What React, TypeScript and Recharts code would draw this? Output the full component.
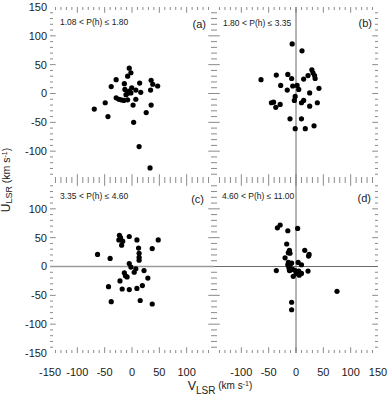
import React from 'react';
import { ScatterChart, Scatter, XAxis, YAxis, ReferenceLine } from 'recharts';

// ---- data (V_LSR, U_LSR in km/s) ----
const VA = [-5, -2, -8, -29, -14, -38, 14, 35, 38, 47, 34, -13, -0.5, 7, -5, -8, -11, 16, -2, -29, -24, -20, -15, -8, 7, 2, 35, -49, -69, -44, 26, 3, 13, 33];
const UA = [44, 36, 30, 24, 17, 12, 18, 23, 16, 13, 6, 7, 10, 6, 4, 0.5, -2, 2, 1, -7.5, -10, -11, -12, -11, -10, -20, -20, -16, -27, -40, -33, -50, -92, -129];

const VB = [-7, 11, 29, 31, 34, 35, 22, 14, -15, -36, -64, -8, -28, -6, 2, 5, -16, 42, 25, -1.5, -3, 10, 14, 39, 25, -45, -41, -29, -37, -11, 10, -1.5, 17, 33];
const UB = [86, 74, 41, 36, 31, 26, 31, 25, 33, 32, 24, 26, 14, 13, 14, 7, 6, 9, 1, -5, -12, -16, -12, -16, -22, -16, -15, -19, -24, -44, -44, -61, -61, -56];

const VC = [-23, -21, -24, -17, -19, -5, 9, 48, 12, 37, 13, 13, 13, -63, -40, -5, -2, 7, 4, 22, -14, -12, -9, 29, -22, 19, -43, -18, -5, 9, -38, 15, 37];
const UC = [54, 50, 46, 44, 37, 52, 46, 46, 32, 31, 23, 16, 11, 21, 14, 5, -1, -4, -10, -7, -11, -16, -18, -20, -25, -33, -35, -39, -40, -38, -61, -59, -65];

const VD = [-34, -29, -15, 3, -17, -12, -14, -11, 16, 24, 23, -20, -14, -15, -11, -8, 4, 10, -36, -13, -12, -10, -6, -1.5, 0.5, 5, 10, 6, 22, -5, 75, -8, -8];
const UD = [67, 72, 62, 66, 39, 28, 24, 23, 28, 21, 18, 15, 7, 3, 3, 6, 7, 3, -7, -2, -7, -6, -5, -7, -12, -8, -12, -15, -8, -17, -43, -62, -75];

const PANEL_RANGES = ['1.08 < P(h) \u2264 1.80', '1.80 < P(h) \u2264 3.35', '3.35 < P(h) \u2264 4.60', '4.60 < P(h) \u2264 11.00'];
const PANEL_TAGS = ['(a)', '(b)', '(c)', '(d)'];

const Y_TICKS_TOP = [-100, -50, 0, 50, 100, 150];
const Y_TICKS_BOTTOM = [-150, -100, -50, 0, 50, 100];
const X_TICKS_LEFT = [-150, -100, -50, 0, 50, 100];
const X_TICKS_RIGHT = [-100, -50, 0, 50, 100, 150];
const DOMAIN: [number, number] = [-150, 150];

const FONT = '"Liberation Sans", Arial, Helvetica, sans-serif';
const TICK_COLOR = '#8a8a8a';

const toPoints = (v: number[], u: number[]) => v.map((x, i) => ({ v: x, u: u[i] }));

// minor tick marks drawn inward on all four sides, through the chart scales
function frameTicks(prefix: string) {
  const out: React.ReactNode[] = [];
  const minX = 5.5, majX = 10.5, minY = 5.2, majY = 10;
  for (let t = -140; t <= 140; t += 10) {
    const major = t % 50 === 0;
    const ly = major ? majY : minY;
    const lx = major ? majX : minX;
    out.push(<ReferenceLine key={`${prefix}t${t}`} segment={[{ x: t, y: 150 }, { x: t, y: 150 - ly }]} stroke={TICK_COLOR} strokeWidth={1} />);
    out.push(<ReferenceLine key={`${prefix}b${t}`} segment={[{ x: t, y: -150 }, { x: t, y: -150 + ly }]} stroke={TICK_COLOR} strokeWidth={1} />);
    out.push(<ReferenceLine key={`${prefix}l${t}`} segment={[{ x: -150, y: t }, { x: -150 + lx, y: t }]} stroke={TICK_COLOR} strokeWidth={1} />);
    out.push(<ReferenceLine key={`${prefix}r${t}`} segment={[{ x: 150, y: t }, { x: 150 - lx, y: t }]} stroke={TICK_COLOR} strokeWidth={1} />);
  }
  return out;
}

const dot = (p: any) => <circle cx={p.cx} cy={p.cy} r={2.6} fill="#000" />;

const W = 388;
const H = 395;
const abs: React.CSSProperties = { position: 'absolute', left: 0, top: 0 };
const tickStyle = { fontSize: 11, fill: '#1a1a1a', fontFamily: FONT };

export default function App() {
  return (
    <div style={{ position: 'absolute', left: 0, top: 0, width: W, height: H, background: '#fff' }}>
      {/* (a) */}
      <div style={abs}>
        <ScatterChart width={W} height={H} margin={{ top: 7, right: 174, bottom: 215, left: 10 }}>
          <XAxis type="number" dataKey="v" domain={DOMAIN} allowDataOverflow hide />
          <YAxis type="number" dataKey="u" domain={DOMAIN} allowDataOverflow ticks={Y_TICKS_TOP} interval={0}
            axisLine={false} tickLine={false} tickSize={0} tickMargin={3} width={40} tick={tickStyle} />
          {frameTicks('a')}
          <Scatter data={toPoints(VA, UA)} shape={dot} isAnimationActive={false} />
        </ScatterChart>
      </div>
      {/* (b) */}
      <div style={abs}>
        <ScatterChart width={W} height={H} margin={{ top: 7, right: 10, bottom: 215, left: 214 }}>
          <XAxis type="number" dataKey="v" domain={DOMAIN} allowDataOverflow hide />
          <YAxis type="number" dataKey="u" domain={DOMAIN} allowDataOverflow hide />
          {frameTicks('b')}
          <ReferenceLine x={0} stroke="#6a6a6a" strokeWidth={1} />
          <Scatter data={toPoints(VB, UB)} shape={dot} isAnimationActive={false} />
        </ScatterChart>
      </div>
      {/* (c) */}
      <div style={abs}>
        <ScatterChart width={W} height={H} margin={{ top: 180, right: 174, bottom: 12, left: 10 }}>
          <XAxis type="number" dataKey="v" domain={DOMAIN} allowDataOverflow ticks={X_TICKS_LEFT} interval={0}
            axisLine={false} tickLine={false} tickSize={0} tickMargin={15} height={30} tick={tickStyle} />
          <YAxis type="number" dataKey="u" domain={DOMAIN} allowDataOverflow ticks={Y_TICKS_BOTTOM} interval={0}
            axisLine={false} tickLine={false} tickSize={0} tickMargin={3} width={40} tick={tickStyle} />
          {frameTicks('c')}
          <ReferenceLine y={0} stroke="#9a9a9a" strokeWidth={1.5} />
          <Scatter data={toPoints(VC, UC)} shape={dot} isAnimationActive={false} />
        </ScatterChart>
      </div>
      {/* (d) */}
      <div style={abs}>
        <ScatterChart width={W} height={H} margin={{ top: 180, right: 10, bottom: 12, left: 214 }}>
          <XAxis type="number" dataKey="v" domain={DOMAIN} allowDataOverflow ticks={X_TICKS_RIGHT} interval={0}
            axisLine={false} tickLine={false} tickSize={0} tickMargin={15} height={30} tick={tickStyle} />
          <YAxis type="number" dataKey="u" domain={DOMAIN} allowDataOverflow hide />
          {frameTicks('d')}
          <ReferenceLine x={0} stroke="#6a6a6a" strokeWidth={1} />
          <ReferenceLine y={0} stroke="#6a6a6a" strokeWidth={1} />
          <Scatter data={toPoints(VD, UD)} shape={dot} isAnimationActive={false} />
        </ScatterChart>
      </div>
      {/* text overlay */}
      <svg width={W} height={H} style={{ ...abs, pointerEvents: 'none' }} fontFamily={FONT}>
        <text x={60} y={25} fontSize={8.5} fill="#1a1a1a">{PANEL_RANGES[0]}</text>
        <text x={206} y={28} fontSize={11} fill="#1a1a1a" textAnchor="end">{PANEL_TAGS[0]}</text>
        <text x={223} y={26} fontSize={8.5} fill="#1a1a1a">{PANEL_RANGES[1]}</text>
        <text x={372} y={27} fontSize={11} fill="#1a1a1a" textAnchor="end">{PANEL_TAGS[1]}</text>
        <text x={60} y={198.5} fontSize={8.5} fill="#1a1a1a">{PANEL_RANGES[2]}</text>
        <text x={204} y={203} fontSize={11} fill="#1a1a1a" textAnchor="end">{PANEL_TAGS[2]}</text>
        <text x={222} y={199} fontSize={8.5} fill="#1a1a1a">{PANEL_RANGES[3]}</text>
        <text x={371} y={202} fontSize={11} fill="#1a1a1a" textAnchor="end">{PANEL_TAGS[3]}</text>
        <text x={220} y={390} textAnchor="middle" fill="#1a1a1a">
          <tspan fontSize={12.5}>V</tspan>
          <tspan fontSize={10} dy={3.5}>LSR</tspan>
          <tspan fontSize={10} dy={-5}> (km s</tspan>
          <tspan fontSize={7} dy={-3}>-1</tspan>
          <tspan fontSize={10} dy={3}>)</tspan>
        </text>
        <text x={10} y={180} textAnchor="middle" fill="#1a1a1a" transform="rotate(-90, 10, 180)">
          <tspan fontSize={12}>U</tspan>
          <tspan fontSize={9} dy={2}>LSR</tspan>
          <tspan fontSize={10.5} dy={-2}> (km s</tspan>
          <tspan fontSize={7} dy={-3}>-1</tspan>
          <tspan fontSize={10.5} dy={3}>)</tspan>
        </text>
      </svg>
    </div>
  );
}
